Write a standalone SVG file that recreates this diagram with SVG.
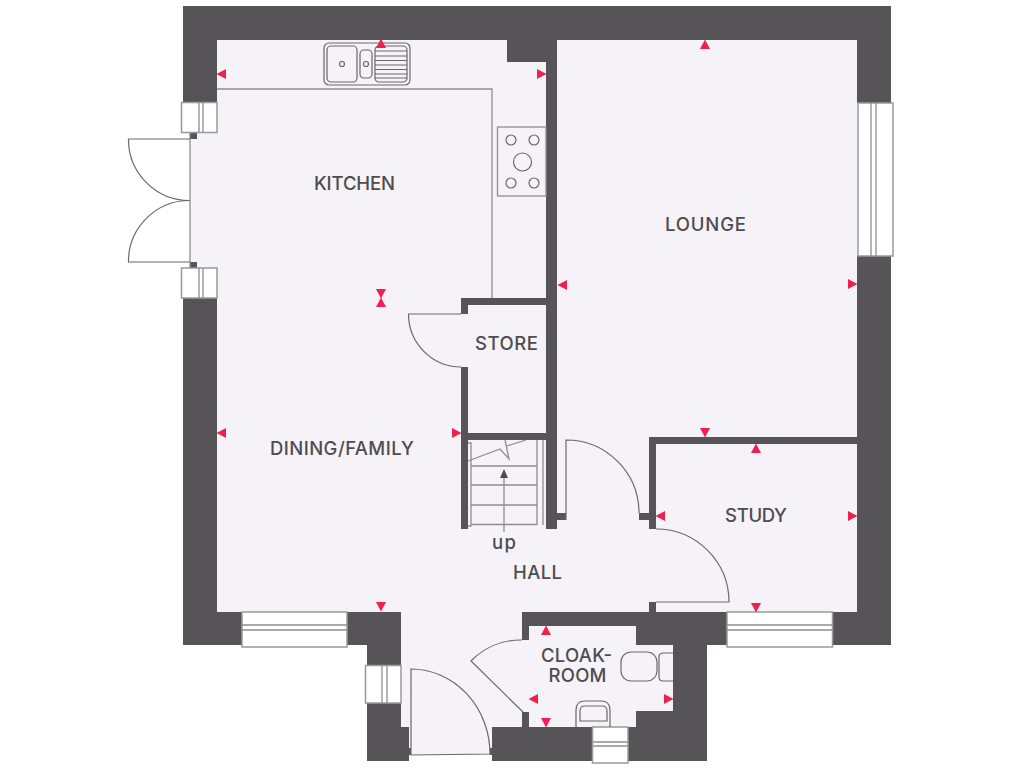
<svg xmlns="http://www.w3.org/2000/svg" width="1024" height="768" viewBox="0 0 1024 768">
<style>
.floor{fill:#f5f3f8}
.wall{fill:#575457}
.win{fill:#fff;stroke:#9b999c;stroke-width:1.5}
.line{fill:none;stroke:#8f8d90;stroke-width:1.3}
.door{fill:none;stroke:#6a686b;stroke-width:1.2}
.fit{fill:none;stroke:#6a686b;stroke-width:1.2}
.mark{fill:#ef2050}
text{font-family:Inter,"Liberation Sans",sans-serif;font-size:18.500px;font-weight:500;fill:#4f4c4f;text-anchor:middle}
</style>
<defs>
<polygon id="m" class="mark" points="0,-0.500 5,9 -5,9"/>
</defs>
<rect width="1024" height="768" fill="#fff"/>
<g id="floor" class="floor">
<rect x="217" y="40" width="640" height="572"/>
<rect x="190" y="133" width="27" height="135"/>
<rect x="401" y="612" width="121" height="143"/>
<rect x="522" y="612" width="151" height="115"/>
</g>
<g id="walls" class="wall">
<rect x="183" y="6" width="708" height="34"/>
<rect x="183" y="6" width="34" height="97"/>
<rect x="183" y="298" width="34" height="347"/>
<rect x="183" y="612" width="59" height="33"/>
<rect x="347" y="612" width="54" height="33"/>
<rect x="367" y="645" width="34" height="20"/>
<rect x="367" y="703" width="34" height="58"/>
<rect x="401" y="727" width="8" height="34"/>
<rect x="408" y="748" width="3" height="7"/>
<rect x="857" y="6" width="34" height="97"/>
<rect x="857" y="256" width="34" height="389"/>
<rect x="833" y="612" width="58" height="33"/>
<rect x="546" y="40" width="11" height="489"/>
<rect x="507" y="40" width="39" height="22"/>
<rect x="557" y="513" width="9" height="7"/>
<rect x="461" y="298" width="85" height="7"/>
<rect x="461" y="298" width="7" height="16"/>
<rect x="461" y="367" width="7" height="162"/>
<rect x="461" y="433" width="85" height="7"/>
<rect x="649" y="437" width="208" height="7"/>
<rect x="649" y="437" width="7" height="92"/>
<rect x="639" y="513" width="10" height="7"/>
<rect x="649" y="602" width="7" height="10"/>
<rect x="522" y="612" width="205" height="14"/>
<rect x="522" y="612" width="7" height="28"/>
<rect x="522" y="712" width="7" height="15"/>
<rect x="636" y="612" width="91" height="33"/>
<rect x="673" y="644" width="34" height="117"/>
<rect x="636" y="711" width="71" height="50"/>
<rect x="628" y="727" width="79" height="34"/>
<rect x="492" y="727" width="100" height="34"/>
<rect x="490" y="748" width="2" height="7"/>
<rect x="190" y="133" width="7" height="6"/>
<rect x="190" y="262" width="7" height="6"/>
</g>
<g id="windows">
<rect class="win" x="181.500" y="102.500" width="35.500" height="30"/>
<path class="line" d="M199 103V132M203 103V132"/>
<rect class="win" x="181.500" y="268" width="35.500" height="30"/>
<path class="line" d="M199 268V298M203 268V298"/>
<rect class="win" x="858" y="103" width="35" height="153"/>
<path class="line" d="M871 103V256M876 103V256" stroke-width="1.800"/>
<rect class="win" x="242" y="612" width="105" height="35"/>
<path class="line" d="M242 625H347M242 630H347"/>
<rect class="win" x="727" y="612" width="105.500" height="35"/>
<path class="line" d="M727 625H832M727 630H832"/>
<rect class="win" x="365.500" y="665.500" width="35.500" height="37.500"/>
<path class="line" d="M382 666V703M387 666V703"/>
<rect class="win" x="592.500" y="727" width="35.500" height="36"/>
<path class="line" d="M593 742H628M593 746H628"/>
</g>
<g id="doors">
<path class="line" d="M190 133V268"/>
<path class="door" d="M190 139H128.500A61 61 0 0 0 190 200.500A61 61 0 0 0 128.500 262H190"/>
<path class="door" d="M461 314H408.500A53 53 0 0 0 461 367"/>
<path class="door" d="M566 520V440A73 73 0 0 1 639 513"/>
<path class="door" d="M656 602H729A73 73 0 0 0 656 529"/>
<path class="door" d="M522 640A70 70 0 0 0 471 661L523 712"/>
<path class="door" d="M411 755V669A79 85 0 0 1 490 754Z"/>
</g>
<g id="worktop">
<path class="line" d="M217 89H492V298"/>
</g>
<g id="sink" class="fit">
<rect x="324" y="43" width="86" height="42" rx="5"/>
<rect x="327" y="46" width="30" height="36" rx="4"/>
<rect x="360" y="50" width="12" height="28" rx="4"/>
<rect x="375" y="46" width="32" height="36" rx="4"/>
<circle cx="342" cy="64" r="2.500"/>
<circle cx="366" cy="64" r="2.500"/>
<path d="M375 51H407M375 56H407M375 60.500H407M375 65H407M375 69.500H407M375 74H407M375 78H407"/>
</g>
<g id="hob" class="fit">
<rect class="line" x="497.500" y="127" width="48.500" height="69"/>
<circle cx="511" cy="140" r="5"/>
<circle cx="534" cy="140" r="5"/>
<circle cx="511" cy="183" r="5"/>
<circle cx="534" cy="183" r="5"/>
<circle cx="522.500" cy="162" r="9"/>
</g>
<g id="stairs">
<path class="line" d="M468 443H471V526H468M471 466H537M471 485H537M471 505H537M471 524.500H537M537 440V525M543 440V525"/>
<path class="line" d="M468 461L500 449L509 459L505 440M507 446L526 440"/>
<path class="line" d="M504 532V472"/>
<polygon points="504,469 508,478 500,478" fill="#4f4c4f"/>
</g>
<g id="wc" class="fit">
<rect x="621" y="652" width="36" height="29" rx="10"/>
<path d="M673 653H663Q659 653 659 657V677Q659 681 663 681H673"/>
<path d="M576 727V710Q576 701 585 701H601Q610 701 610 710V727"/>
<path d="M580 721V711Q580 706 585 706H602Q607 706 607 711V721Z"/>
</g>
<g id="marks">
<use href="#m" transform="translate(381 39)"/>
<use href="#m" transform="translate(217 74) rotate(-90)"/>
<use href="#m" transform="translate(546 74) rotate(90)"/>
<use href="#m" transform="translate(381 298)"/>
<use href="#m" transform="translate(381 298) rotate(180)"/>
<use href="#m" transform="translate(705 40)"/>
<use href="#m" transform="translate(558 285) rotate(-90)"/>
<use href="#m" transform="translate(857 284) rotate(90)"/>
<use href="#m" transform="translate(705 437) rotate(180)"/>
<use href="#m" transform="translate(756 444)"/>
<use href="#m" transform="translate(656 516) rotate(-90)"/>
<use href="#m" transform="translate(857 516) rotate(90)"/>
<use href="#m" transform="translate(756 612) rotate(180)"/>
<use href="#m" transform="translate(217 433) rotate(-90)"/>
<use href="#m" transform="translate(461 433) rotate(90)"/>
<use href="#m" transform="translate(381 611) rotate(180)"/>
<use href="#m" transform="translate(546 626)"/>
<use href="#m" transform="translate(529 699) rotate(-90)"/>
<use href="#m" transform="translate(673 699) rotate(90)"/>
<use href="#m" transform="translate(546 727) rotate(180)"/>
</g>
<g id="labels">
<text x="354.500" y="190" textLength="81">KITCHEN</text>
<text x="705.500" y="231" textLength="81">LOUNGE</text>
<text x="506.500" y="350" textLength="63">STORE</text>
<text x="342" y="454.500" textLength="144">DINING/FAMILY</text>
<text x="756" y="521.500" textLength="62">STUDY</text>
<text x="537.500" y="578.500" textLength="49">HALL</text>
<text x="504" y="548.500" textLength="24">up</text>
<text x="576.500" y="661.500" textLength="71">CLOAK-</text>
<text x="577.500" y="681.500" textLength="58">ROOM</text>
</g>
</svg>
